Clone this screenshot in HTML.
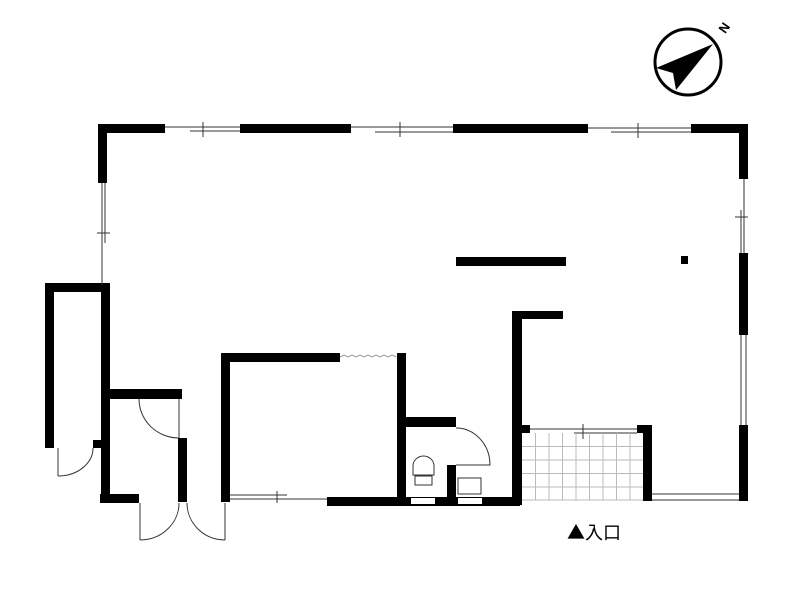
<!DOCTYPE html>
<html><head><meta charset="utf-8"><style>body{margin:0;background:#fff}svg{display:block}</style></head><body>
<svg width="800" height="600" xmlns="http://www.w3.org/2000/svg">
<g fill="#000">
<rect x="98" y="124" width="67" height="9"/>
<rect x="240" y="124" width="111" height="9"/>
<rect x="453" y="124" width="135" height="9"/>
<rect x="691" y="124" width="57" height="9"/>
<rect x="98" y="124" width="9" height="59"/>
<rect x="739" y="124" width="9" height="55"/>
<rect x="739" y="253" width="9" height="82"/>
<rect x="739" y="425" width="9" height="76"/>
<rect x="456" y="257" width="110" height="9"/>
<rect x="681" y="256" width="7" height="8"/>
<rect x="45" y="283" width="9" height="165"/>
<rect x="45" y="283" width="65" height="9"/>
<rect x="101" y="283" width="9" height="220"/>
<rect x="93" y="440" width="9" height="8"/>
<rect x="101" y="389" width="81" height="10"/>
<rect x="100" y="494" width="39" height="9"/>
<rect x="178" y="438" width="9" height="64"/>
<rect x="221" y="353" width="9" height="149"/>
<rect x="221" y="353" width="119" height="9"/>
<rect x="397" y="353" width="9" height="152"/>
<rect x="327" y="497" width="193" height="9"/>
<rect x="397" y="417" width="59" height="10"/>
<rect x="447" y="465" width="9" height="38"/>
<rect x="512" y="311" width="10" height="194"/>
<rect x="512" y="311" width="51" height="8"/>
<rect x="522" y="425" width="8" height="8"/>
<rect x="637" y="425" width="15" height="8"/>
<rect x="643" y="425" width="9" height="76"/>
</g>
<g fill="#fff"><rect x="411" y="498" width="24" height="6"/><rect x="458" y="498" width="24" height="6"/></g>
<g stroke="#333" stroke-width="1" fill="none">
<line x1="165" y1="127" x2="240" y2="127"/><line x1="190" y1="131" x2="240" y2="131"/><line x1="203" y1="122" x2="203" y2="137"/>
<line x1="351" y1="127" x2="453" y2="127"/><line x1="375" y1="132" x2="453" y2="132"/><line x1="400" y1="122" x2="400" y2="137"/>
<line x1="588" y1="128" x2="691" y2="128"/><line x1="611" y1="132" x2="691" y2="132"/><line x1="638" y1="123" x2="638" y2="138"/>
<line x1="102" y1="183" x2="102" y2="285"/><line x1="105" y1="183" x2="105" y2="243"/><line x1="97" y1="233" x2="110" y2="233"/>
<line x1="744" y1="179" x2="744" y2="253"/><line x1="741" y1="210" x2="741" y2="253"/><line x1="735" y1="217" x2="748" y2="217"/>
<line x1="741" y1="335" x2="741" y2="425"/><line x1="746" y1="335" x2="746" y2="425"/>
<line x1="58" y1="448" x2="58" y2="476"/><path d="M58 476 A35 28 0 0 0 93 448"/>
<line x1="179" y1="399" x2="179" y2="438"/><path d="M139 399 A40 39 0 0 0 179 438"/>
<line x1="140" y1="503" x2="140" y2="540"/><path d="M140 540 A39 37 0 0 0 179 503"/>
<line x1="225" y1="503" x2="225" y2="540"/><path d="M187 503 A38 37 0 0 0 225 540"/>
<line x1="230" y1="495" x2="287" y2="495"/><line x1="230" y1="499" x2="327" y2="499"/><line x1="277" y1="491" x2="277" y2="503"/>
<path d="M340 357 l4 -2 l4 2 l4 -2 l4 2 l4 -2 l4 2 l4 -2 l4 2 l4 -2 l4 2 l4 -2 l4 2 l4 -2 l4 2" stroke="#999"/>
<path d="M456 428 A34 37 0 0 1 490 465 L456 465"/>
<path d="M413 475 L413 466 A10.5 10 0 0 1 434 466 L434 475 Z"/><rect x="415" y="476" width="17" height="9"/>
<rect x="458" y="478" width="23" height="16"/>
<line x1="530" y1="429" x2="637" y2="429"/><line x1="574" y1="433" x2="637" y2="433"/><line x1="583" y1="424" x2="583" y2="439"/>
<line x1="652" y1="494" x2="739" y2="494"/><line x1="652" y1="500" x2="739" y2="500"/>
</g>
<g stroke="#bbb" stroke-width="1">
<line x1="535.5" y1="433" x2="535.5" y2="500"/><line x1="549" y1="433" x2="549" y2="500"/><line x1="562.5" y1="433" x2="562.5" y2="500"/><line x1="576" y1="433" x2="576" y2="500"/><line x1="589.5" y1="433" x2="589.5" y2="500"/><line x1="603" y1="433" x2="603" y2="500"/><line x1="616.5" y1="433" x2="616.5" y2="500"/><line x1="630" y1="433" x2="630" y2="500"/>
<line x1="522" y1="446.5" x2="643" y2="446.5"/><line x1="522" y1="460" x2="643" y2="460"/><line x1="522" y1="473.5" x2="643" y2="473.5"/><line x1="522" y1="487" x2="643" y2="487"/><line x1="522" y1="500" x2="643" y2="500"/>
</g>
<circle cx="688" cy="62" r="33" stroke="#000" stroke-width="3" fill="none"/>
<polygon points="713,44 656,68 673,73 676,90" fill="#000"/>
<text x="722" y="36" font-family="Liberation Sans, sans-serif" font-size="13" font-weight="bold" transform="rotate(-55 722 32)">N</text>
<text x="567" y="539" font-family="'Noto Sans CJK JP', sans-serif" font-size="18">▲入口</text>
</svg>
</body></html>
